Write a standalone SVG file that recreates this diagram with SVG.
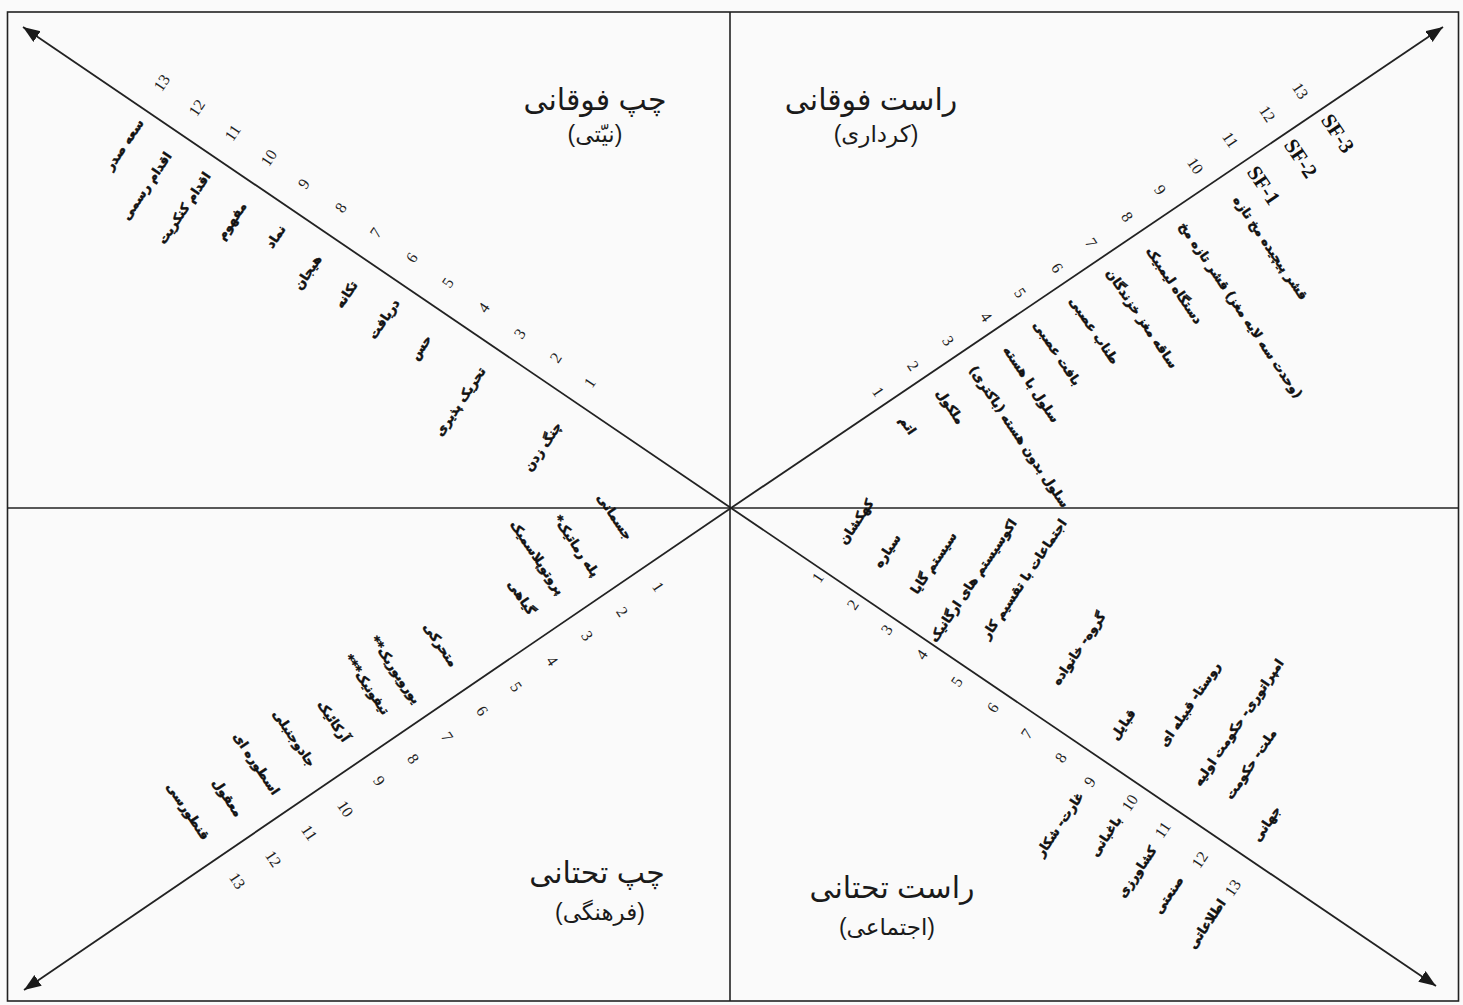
<svg xmlns="http://www.w3.org/2000/svg" width="1463" height="1005" viewBox="0 0 1463 1005">
<defs>
<marker id="ah" markerUnits="userSpaceOnUse" markerWidth="18" markerHeight="14" refX="17" refY="6.5" orient="auto">
<path d="M0,0 L17,6.5 L0,13 z" fill="#1a1a1a"/>
</marker>
<style>
.frame{fill:none;stroke:#222;stroke-width:1.6}
.axis{stroke:#222;stroke-width:1.6;fill:none}
.diag{stroke:#222;stroke-width:1.8;fill:none;marker-end:url(#ah)}
.lbl{font-family:"DejaVu Sans","Noto Sans",sans-serif;font-weight:bold;font-size:12.6px;fill:#111;stroke:#111;stroke-width:0.5}
.num{font-family:"Liberation Serif","DejaVu Serif",serif;font-size:16px;fill:#222;text-anchor:middle}
.sf{font-family:"Liberation Serif","DejaVu Serif",serif;font-weight:bold;font-size:21px;fill:#111}
.ttl{font-family:"Liberation Sans","DejaVu Sans",sans-serif;font-size:30px;fill:#1a1a1a;text-anchor:middle}
.sub{font-family:"Liberation Sans","DejaVu Sans",sans-serif;font-size:23px;fill:#1a1a1a;text-anchor:middle}
</style>
</defs>
<rect x="0" y="0" width="1463" height="1005" fill="#fafafa"/>
<rect class="frame" x="7.5" y="12" width="1451" height="989"/>

<g id="connectors">
<line class="axis" x1="7.5" y1="508" x2="1458.5" y2="508"/>
<line class="axis" x1="730" y1="12" x2="730" y2="1001"/>
<line class="diag" x1="731" y1="508" x2="23" y2="27"/>
<line class="diag" x1="731" y1="508" x2="1443" y2="27"/>
<line class="diag" x1="731" y1="508" x2="24" y2="990"/>
<line class="diag" x1="731" y1="508" x2="1436" y2="986"/>
</g>

<g id="titles">
<g id="title-ul"><text class="ttl" x="595" y="110" direction="rtl">چپ فوقانی</text><text class="sub" x="595" y="142" direction="rtl">(نیّتی)</text></g>
<g id="title-ur"><text class="ttl" x="871" y="110" direction="rtl">راست فوقانی</text><text class="sub" x="876" y="142" direction="rtl">(کرداری)</text></g>
<g id="title-ll"><text class="ttl" x="597" y="883" direction="rtl">چپ تحتانی</text><text class="sub" x="600" y="920" direction="rtl">(فرهنگی)</text></g>
<g id="title-lr"><text class="ttl" x="892" y="898" direction="rtl">راست تحتانی</text><text class="sub" x="887" y="935" direction="rtl">(اجتماعی)</text></g>
</g>

<g id="ul-numbers">
<text class="num" transform="translate(590,383) rotate(-56)" dy="5">1</text>
<text class="num" transform="translate(556,358) rotate(-56)" dy="5">2</text>
<text class="num" transform="translate(520,334) rotate(-56)" dy="5">3</text>
<text class="num" transform="translate(484,308) rotate(-56)" dy="5">4</text>
<text class="num" transform="translate(448,283) rotate(-56)" dy="5">5</text>
<text class="num" transform="translate(412,258) rotate(-56)" dy="5">6</text>
<text class="num" transform="translate(376,233) rotate(-56)" dy="5">7</text>
<text class="num" transform="translate(341,208) rotate(-56)" dy="5">8</text>
<text class="num" transform="translate(304,184) rotate(-56)" dy="5">9</text>
<text class="num" transform="translate(269,158) rotate(-56)" dy="5">10</text>
<text class="num" transform="translate(233,133) rotate(-56)" dy="5">11</text>
<text class="num" transform="translate(197,108) rotate(-56)" dy="5">12</text>
<text class="num" transform="translate(162,83) rotate(-56)" dy="5">13</text>
</g>

<g id="ul-labels">
<g id="ul-1"><text class="lbl" transform="translate(558,423) rotate(-56)" dy="5" direction="rtl">چنگ زدن</text></g>
<g id="ul-2"><text class="lbl" transform="translate(482,368) rotate(-56)" dy="5" direction="rtl">تحریک پذیری</text></g>
<g id="ul-3"><text class="lbl" transform="translate(428,336) rotate(-56)" dy="5" direction="rtl">حس</text></g>
<g id="ul-4"><text class="lbl" transform="translate(396,300) rotate(-56)" dy="5" direction="rtl">دریافت</text></g>
<g id="ul-5"><text class="lbl" transform="translate(354,282) rotate(-56)" dy="5" direction="rtl">تکانه</text></g>
<g id="ul-6"><text class="lbl" transform="translate(318,256) rotate(-56)" dy="5" direction="rtl">هیجان</text></g>
<g id="ul-7"><text class="lbl" transform="translate(282,226) rotate(-56)" dy="5" direction="rtl">نماد</text></g>
<g id="ul-8"><text class="lbl" transform="translate(243,203) rotate(-56)" dy="5" direction="rtl">مفهوم</text></g>
<g id="ul-9"><text class="lbl" transform="translate(207,173) rotate(-56)" dy="5" direction="rtl">اقدام کنکریت</text></g>
<g id="ul-10"><text class="lbl" transform="translate(168,153) rotate(-56)" dy="5" direction="rtl">اقدام رسمی</text></g>
<g id="ul-11"><text class="lbl" transform="translate(140,120) rotate(-56)" dy="5" direction="rtl">سعه صدر</text></g>
</g>

<g id="ur-numbers">
<text class="num" transform="translate(878,392) rotate(56)" dy="5">1</text>
<text class="num" transform="translate(913,366) rotate(56)" dy="5">2</text>
<text class="num" transform="translate(948,341) rotate(56)" dy="5">3</text>
<text class="num" transform="translate(986,317) rotate(56)" dy="5">4</text>
<text class="num" transform="translate(1020,293) rotate(56)" dy="5">5</text>
<text class="num" transform="translate(1057,268) rotate(56)" dy="5">6</text>
<text class="num" transform="translate(1091,243) rotate(56)" dy="5">7</text>
<text class="num" transform="translate(1127,217) rotate(56)" dy="5">8</text>
<text class="num" transform="translate(1160,190) rotate(56)" dy="5">9</text>
<text class="num" transform="translate(1195,166) rotate(56)" dy="5">10</text>
<text class="num" transform="translate(1230,140) rotate(56)" dy="5">11</text>
<text class="num" transform="translate(1267,114) rotate(56)" dy="5">12</text>
<text class="num" transform="translate(1300,91) rotate(56)" dy="5">13</text>
</g>

<g id="ur-labels">
<g id="ur-1"><text class="lbl" transform="translate(903,417) rotate(56)" dy="5" direction="rtl" text-anchor="end">اتم</text></g>
<g id="ur-2"><text class="lbl" transform="translate(940,390) rotate(56)" dy="5" direction="rtl" text-anchor="end">ملکول</text></g>
<g id="ur-3"><text class="lbl" transform="translate(973,367) rotate(56)" dy="5" direction="rtl" text-anchor="end">سلول بدون هسته (باکتری)</text></g>
<g id="ur-4"><text class="lbl" transform="translate(1007,347) rotate(56)" dy="5" direction="rtl" text-anchor="end">سلول با هسته</text></g>
<g id="ur-5"><text class="lbl" transform="translate(1037,322) rotate(56)" dy="5" direction="rtl" text-anchor="end">بافت عصبی</text></g>
<g id="ur-6"><text class="lbl" transform="translate(1073,298) rotate(56)" dy="5" direction="rtl" text-anchor="end">طناب عصبی</text></g>
<g id="ur-7"><text class="lbl" transform="translate(1110,270) rotate(56)" dy="5" direction="rtl" text-anchor="end">ساقه مغز خزندگان</text></g>
<g id="ur-8"><text class="lbl" transform="translate(1150,248) rotate(56)" dy="5" direction="rtl" text-anchor="end">دستگاه لیمبیک</text></g>
<g id="ur-9"><text class="lbl" transform="translate(1183,223) rotate(56)" dy="5" direction="rtl" text-anchor="end">(وحدت سه لایه مغز) قشر تازه مخ</text></g>
<g id="ur-10"><text class="lbl" transform="translate(1237,197) rotate(56)" dy="5" direction="rtl" text-anchor="end">قشر پیچیده مخ تازه</text></g>
<g id="ur-11"><text class="sf" transform="translate(1252,168) rotate(56)" dy="7">SF-1</text></g>
<g id="ur-12"><text class="sf" transform="translate(1289,141) rotate(56)" dy="7">SF-2</text></g>
<g id="ur-13"><text class="sf" transform="translate(1326,116) rotate(56)" dy="7">SF-3</text></g>
</g>

<g id="ll-numbers">
<text class="num" transform="translate(658,587) rotate(56)" dy="5">1</text>
<text class="num" transform="translate(622,612) rotate(56)" dy="5">2</text>
<text class="num" transform="translate(587,636) rotate(56)" dy="5">3</text>
<text class="num" transform="translate(552,661) rotate(56)" dy="5">4</text>
<text class="num" transform="translate(516,687) rotate(56)" dy="5">5</text>
<text class="num" transform="translate(482,711) rotate(56)" dy="5">6</text>
<text class="num" transform="translate(447,737) rotate(56)" dy="5">7</text>
<text class="num" transform="translate(413,759) rotate(56)" dy="5">8</text>
<text class="num" transform="translate(379,781) rotate(56)" dy="5">9</text>
<text class="num" transform="translate(345,809) rotate(56)" dy="5">10</text>
<text class="num" transform="translate(309,833) rotate(56)" dy="5">11</text>
<text class="num" transform="translate(273,859) rotate(56)" dy="5">12</text>
<text class="num" transform="translate(237,881) rotate(56)" dy="5">13</text>
</g>

<g id="ll-labels">
<g id="ll-1"><text class="lbl" transform="translate(630,538) rotate(56)" dy="5" direction="rtl">جسمانی</text></g>
<g id="ll-2"><text class="lbl" transform="translate(597,575) rotate(56)" dy="5" direction="rtl">پله رماتیک*</text></g>
<g id="ll-3"><text class="lbl" transform="translate(562,593) rotate(56)" dy="5" direction="rtl">پروتوپلاسمیک</text></g>
<g id="ll-4"><text class="lbl" transform="translate(533,613) rotate(56)" dy="5" direction="rtl">گیاهی</text></g>
<g id="ll-5"><text class="lbl" transform="translate(455,665) rotate(56)" dy="5" direction="rtl">متحرکی</text></g>
<g id="ll-6"><text class="lbl" transform="translate(418,702) rotate(56)" dy="5" direction="rtl">یوروبوریک**</text></g>
<g id="ll-7"><text class="lbl" transform="translate(387,713) rotate(56)" dy="5" direction="rtl">تیفونیک***</text></g>
<g id="ll-8"><text class="lbl" transform="translate(347,740) rotate(56)" dy="5" direction="rtl">آرکائیک</text></g>
<g id="ll-9"><text class="lbl" transform="translate(313,765) rotate(56)" dy="5" direction="rtl">جادوجنبلی</text></g>
<g id="ll-10"><text class="lbl" transform="translate(277,793) rotate(56)" dy="5" direction="rtl">اسطوره ای</text></g>
<g id="ll-11"><text class="lbl" transform="translate(240,815) rotate(56)" dy="5" direction="rtl">معقول</text></g>
<g id="ll-12"><text class="lbl" transform="translate(207,838) rotate(56)" dy="5" direction="rtl">قنطورسی</text></g>
</g>

<g id="lr-numbers">
<text class="num" transform="translate(818,578) rotate(-56)" dy="5">1</text>
<text class="num" transform="translate(853,605) rotate(-56)" dy="5">2</text>
<text class="num" transform="translate(887,630) rotate(-56)" dy="5">3</text>
<text class="num" transform="translate(922,655) rotate(-56)" dy="5">4</text>
<text class="num" transform="translate(957,682) rotate(-56)" dy="5">5</text>
<text class="num" transform="translate(993,708) rotate(-56)" dy="5">6</text>
<text class="num" transform="translate(1027,734) rotate(-56)" dy="5">7</text>
<text class="num" transform="translate(1061,758) rotate(-56)" dy="5">8</text>
<text class="num" transform="translate(1090,782) rotate(-56)" dy="5">9</text>
<text class="num" transform="translate(1130,803) rotate(-56)" dy="5">10</text>
<text class="num" transform="translate(1163,830) rotate(-56)" dy="5">11</text>
<text class="num" transform="translate(1200,860) rotate(-56)" dy="5">12</text>
<text class="num" transform="translate(1233,888) rotate(-56)" dy="5">13</text>
</g>

<g id="lr-labels">
<g id="lr-1"><text class="lbl" transform="translate(870,500) rotate(-56)" dy="5" direction="rtl">کهکشان</text></g>
<g id="lr-2"><text class="lbl" transform="translate(897,535) rotate(-56)" dy="5" direction="rtl">سیاره</text></g>
<g id="lr-3"><text class="lbl" transform="translate(953,533) rotate(-56)" dy="5" direction="rtl">سیستم گایا</text></g>
<g id="lr-4"><text class="lbl" transform="translate(1013,520) rotate(-56)" dy="5" direction="rtl">اکوسیستم های ارگانیک</text></g>
<g id="lr-5"><text class="lbl" transform="translate(1063,520) rotate(-56)" dy="5" direction="rtl">اجتماعات با تقسیم کار</text></g>
<g id="lr-6"><text class="lbl" transform="translate(1102,613) rotate(-56)" dy="5" direction="rtl">گروه- خانواده</text></g>
<g id="lr-7"><text class="lbl" transform="translate(1132,710) rotate(-56)" dy="5" direction="rtl">قبایل</text></g>
<g id="lr-8"><text class="lbl" transform="translate(1217,663) rotate(-56)" dy="5" direction="rtl">روستا- قبیله ای</text></g>
<g id="lr-9"><text class="lbl" transform="translate(1280,660) rotate(-56)" dy="5" direction="rtl">امپراتوری- حکومت اولیه</text></g>
<g id="lr-10"><text class="lbl" transform="translate(1273,730) rotate(-56)" dy="5" direction="rtl">ملت- حکومت</text></g>
<g id="lr-11"><text class="lbl" transform="translate(1277,807) rotate(-56)" dy="5" direction="rtl">جهانی</text></g>
<g id="lr-12"><text class="lbl" transform="translate(1080,793) rotate(-56)" dy="5" direction="rtl">غارت- شکار</text></g>
<g id="lr-13"><text class="lbl" transform="translate(1118,817) rotate(-56)" dy="5" direction="rtl">باغبانی</text></g>
<g id="lr-14"><text class="lbl" transform="translate(1153,847) rotate(-56)" dy="5" direction="rtl">کشاورزی</text></g>
<g id="lr-15"><text class="lbl" transform="translate(1180,877) rotate(-56)" dy="5" direction="rtl">صنعتی</text></g>
<g id="lr-16"><text class="lbl" transform="translate(1222,900) rotate(-56)" dy="5" direction="rtl">اطلاعاتی</text></g>
</g>
</svg>
